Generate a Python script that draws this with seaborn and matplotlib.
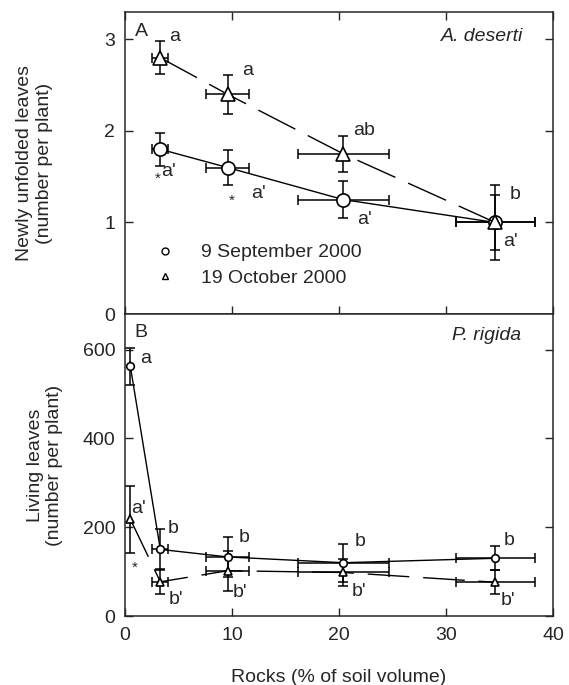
"""
plot.py
Leaf counts of A. deserti and P. rigida against rock content of the soil.
"""

import pandas as pd
import matplotlib.pyplot as plt
from matplotlib.lines import Line2D
import seaborn as sns

sns.set_style("ticks")
plt.rcParams['font.family'] = ['Liberation Sans', 'DejaVu Sans']
plt.rcParams['font.size'] = 14

DATES = ["9 September 2000", "19 October 2000"]

# Panel A: A. deserti, newly unfolded leaves
rocks_a = [3.3, 9.6, 20.4, 34.6]
rocks_a_err = [0.75, 2.0, 4.25, 3.7]
sep_a = [1.80, 1.60, 1.25, 1.00]
sep_a_err = [0.18, 0.19, 0.20, 0.30]
oct_a = [2.80, 2.40, 1.75, 1.00]
oct_a_err = [0.18, 0.21, 0.20, 0.41]
sep_a_letters = ["a'", "a'", "a'", "a'"]
oct_a_letters = ["a", "a", "ab", "b"]
sep_a_stars = ["*", "*", "", ""]

# Panel B: P. rigida, living leaves
rocks_b = [0.5, 3.3, 9.6, 20.4, 34.6]
rocks_b_err = [0.0, 0.75, 2.0, 4.25, 3.7]
sep_b = [562, 150, 133, 120, 130]
sep_b_err = [42, 46, 45, 43, 27]
oct_b = [218, 77, 102, 98, 76]
oct_b_err = [75, 28, 45, 30, 27]
sep_b_letters = ["a", "b", "b", "b", "b"]
oct_b_letters = ["a'", "b'", "b'", "b'", "b'"]
oct_b_stars = ["*", "", "", "", ""]

# label offsets in points (layout only)
sep_a_off = [(6, -16), (22, -19), (15, -14), (11, -14)]
oct_a_off = [(10, 15), (14, 17), (15, 17), (14, 20)]
sep_a_star_off = [(-2, -21), (3, -24)]
sep_b_off = [(11, 6), (9, 15), (12, 14), (12, 15), (10, 13)]
oct_b_off = [(6, 8), (11, -13), (9, -16), (11, -14), (9, -13)]
oct_b_star_off = [(3, -35)]


def long_table(x, y1, y2):
    return pd.DataFrame({
        'rocks': list(x) + list(x),
        'leaves': list(y1) + list(y2),
        'date': [DATES[0]] * len(x) + [DATES[1]] * len(x),
    })


def draw_panel(ax, x, xerr, s, serr, o, oerr, msize):
    for yv, ye in [(s, serr), (o, oerr)]:
        ax.errorbar(x, yv, yerr=ye, xerr=xerr, fmt='none', ecolor='black',
                    elinewidth=1.1, capsize=3.5, capthick=1.1, zorder=2)
    df = long_table(x, s, o)
    sns.lineplot(data=df, x='rocks', y='leaves', style='date', ax=ax,
                 markers={DATES[0]: 'o', DATES[1]: '^'},
                 dashes={DATES[0]: '', DATES[1]: (30, 10)},
                 color='black', lw=1.0, markersize=msize,
                 markerfacecolor='white', markeredgecolor='black', mew=1.2,
                 estimator=None, sort=False, legend=False, zorder=3)


def letters(ax, x, y, labels, offsets, size=14):
    for xi, yi, lab, off in zip(x, y, labels, offsets):
        if lab:
            ax.annotate(lab, (xi, yi), xytext=off, textcoords='offset points',
                        ha='center', va='center', fontsize=size)


fig, (ax1, ax2) = plt.subplots(2, 1, figsize=(5.69, 6.85), dpi=100, sharex=True)
fig.subplots_adjust(left=0.2197, right=0.9719, top=0.9825, bottom=0.1007, hspace=0)

draw_panel(ax1, rocks_a, rocks_a_err, sep_a, sep_a_err, oct_a, oct_a_err, 9.5)
draw_panel(ax2, rocks_b, rocks_b_err, sep_b, sep_b_err, oct_b, oct_b_err, 5.5)

letters(ax1, rocks_a, sep_a, sep_a_letters, sep_a_off)
letters(ax1, rocks_a, oct_a, oct_a_letters, oct_a_off)
letters(ax1, rocks_a[:2], sep_a[:2], sep_a_stars[:2], sep_a_star_off, 11)
letters(ax2, rocks_b, sep_b, sep_b_letters, sep_b_off)
letters(ax2, rocks_b, oct_b, oct_b_letters, oct_b_off)
letters(ax2, rocks_b[:1], oct_b[:1], oct_b_stars[:1], oct_b_star_off, 11)

ax1.set_xlim(0, 40)
ax1.set_ylim(0, 3.3)
ax1.set_yticks([0, 1, 2, 3])
ax2.set_ylim(0, 680)
ax2.set_yticks([0, 200, 400, 600])
ax2.set_xticks([0, 10, 20, 30, 40])

for ax in (ax1, ax2):
    for sp in ax.spines.values():
        sp.set_linewidth(1.1)
    ax.tick_params(direction='in', length=6, width=1.0, right=True,
                   labelsize=14)
    ax.tick_params(axis='y', pad=7)
    ax.tick_params(axis='x', pad=8)
ax1.tick_params(axis='x', top=True, labelbottom=False)

ax1.set_ylabel("Newly unfolded leaves\n(number per plant)", fontsize=14)
ax2.set_ylabel("Living leaves\n(number per plant)", fontsize=14)
ax1.yaxis.set_label_coords(-0.169, 0.5)
ax2.yaxis.set_label_coords(-0.144, 0.5)
ax2.set_xlabel("Rocks (% of soil volume)", fontsize=14, labelpad=18)
ax1.set_xlabel("")

ax1.text(0.039, 0.934, "A", transform=ax1.transAxes, ha='center', va='center')
ax2.text(0.036, 0.938, "B", transform=ax2.transAxes, ha='center', va='center')
ax1.text(0.93, 0.918, "A. deserti", transform=ax1.transAxes, ha='right',
         va='center', style='italic')
ax2.text(0.925, 0.93, "P. rigida", transform=ax2.transAxes, ha='right',
         va='center', style='italic')

handles = [Line2D([], [], ls='none', marker=m, markersize=5,
                  markerfacecolor='white', markeredgecolor='black', mew=1.0)
           for m in ['o', '^']]
ax1.legend(handles, DATES, loc='lower left', bbox_to_anchor=(0.048, 0.09),
           frameon=False, borderaxespad=0, borderpad=0, handletextpad=0.85,
           labelspacing=0.4, fontsize=14)

fig.savefig("out.png", dpi=100)
